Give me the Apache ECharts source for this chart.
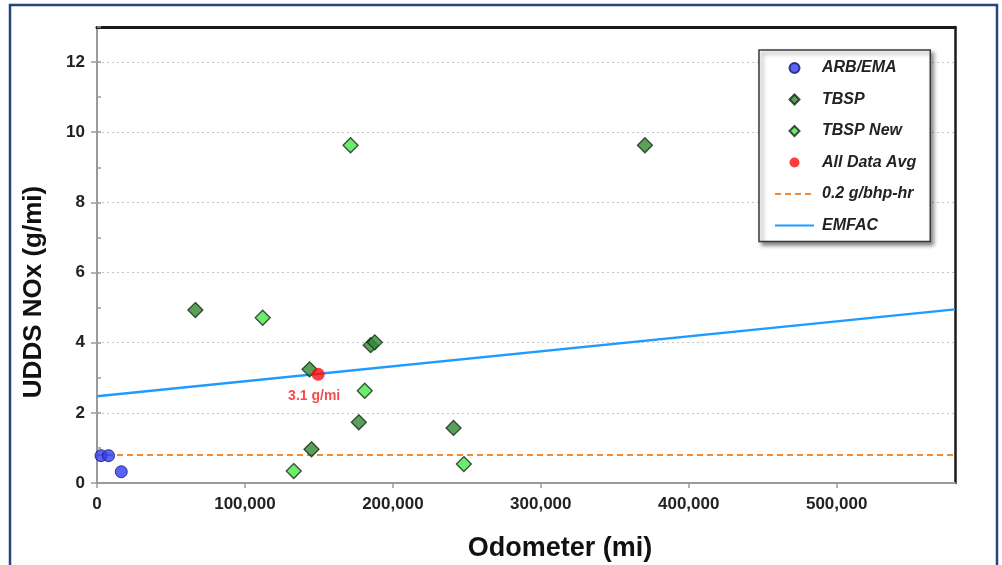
<!DOCTYPE html>
<html>
<head>
<meta charset="utf-8">
<style>
html,body{margin:0;padding:0;background:#fff;}
#chart{width:1002px;height:565px;}
</style>
<script src="https://cdn.jsdelivr.net/npm/echarts@6/dist/echarts.min.js"></script>
</head>
<body>
<div id="chart"></div>
<script>
// ---- data ----
var xTickValues = [0, 100000, 200000, 300000, 400000, 500000];
var yTickValues = [0, 2, 4, 6, 8, 10, 12];
var arbEma = [[2700, 0.78], [7800, 0.78], [16400, 0.32]];
var tbsp = [[66500, 4.93], [370400, 9.63], [143700, 3.24], [185000, 3.93], [187800, 4.01],
            [177000, 1.73], [145000, 0.96], [241000, 1.57]];
var tbspNew = [[171400, 9.63], [112000, 4.71], [181000, 2.63], [133000, 0.34], [248000, 0.54]];
var allDataAvg = [[149500, 3.1]];
var avgLabel = '3.1 g/mi';
var limitLine = [[0, 0.8], [580000, 0.8]];
var emfacLine = [[0, 2.47], [580000, 4.95]];
var xMax = 580000;
var yMax = 13;

var FONT = '"Liberation Sans", Arial, sans-serif';
var chart = echarts.init(document.getElementById('chart'), null, {renderer: 'canvas'});

function fmtNum(v) {
  return String(v).replace(/\B(?=(\d{3})+(?!\d))/g, ',');
}
// legend diamond icon: zero-length end segments widen the bounding box so the diamond keeps its shape
var diamondIcon = 'path://M0,5L0,5M39,5L39,5M14.5,5L19.5,0L24.5,5L19.5,10Z';

var option = {
  backgroundColor: '#ffffff',
  animation: false,
  grid: {left: 97, right: 47, top: 27, bottom: 82, containLabel: false, outerBoundsMode: 'none'},
  graphic: [
    {type: 'rect', z: 100, silent: true,
     shape: {x: 10, y: 5, width: 987, height: 620},
     style: {fill: 'none', stroke: '#24467a', lineWidth: 2.5}}
  ],
  xAxis: [
    {
      type: 'value', min: 0, max: xMax, interval: 100000,
      name: 'Odometer (mi)', nameLocation: 'middle', nameGap: 52,
      nameTextStyle: {fontFamily: FONT, fontWeight: 'bold', fontSize: 27, color: '#111', padding: [0, 0, 0, 68]},
      axisLine: {show: true, lineStyle: {color: '#9a9a9a', width: 2}},
      axisTick: {show: true, length: 5, customValues: xTickValues, lineStyle: {color: '#9a9a9a', width: 1.5}},
      axisLabel: {
        fontFamily: FONT, fontWeight: 'bold', fontSize: 17, color: '#222', margin: 13,
        formatter: function (v) { return xTickValues.indexOf(v) >= 0 ? fmtNum(v) : ''; }
      },
      splitLine: {show: false}
    },
    {
      type: 'value', position: 'top', min: 0, max: xMax,
      axisLine: {show: true, onZero: false, lineStyle: {color: '#1a1a1a', width: 3}},
      axisTick: {show: false}, axisLabel: {show: false}, splitLine: {show: false}
    }
  ],
  yAxis: [
    {
      type: 'value', min: 0, max: yMax, interval: 2,
      name: 'UDDS NOx (g/mi)', nameLocation: 'middle', nameGap: 50,
      nameTextStyle: {fontFamily: FONT, fontWeight: 'bold', fontSize: 26, color: '#111', padding: [0, 74, 0, 0]},
      axisLine: {show: true, lineStyle: {color: '#9a9a9a', width: 2}},
      axisTick: {show: true, length: 6, customValues: yTickValues, lineStyle: {color: '#9a9a9a', width: 1.5}},
      axisLabel: {
        fontFamily: FONT, fontWeight: 'bold', fontSize: 17, color: '#222', margin: 12,
        formatter: function (v) { return yTickValues.indexOf(v) >= 0 ? String(v) : ''; }
      },
      splitLine: {show: true, lineStyle: {color: '#c4c4c4', width: 1.2, type: [2, 3]}}
    },
    {
      type: 'value', position: 'right', min: 0, max: yMax,
      axisLine: {show: true, onZero: false, lineStyle: {color: '#1a1a1a', width: 2.5}},
      axisTick: {show: false}, axisLabel: {show: false}, splitLine: {show: false}
    },
    {
      type: 'value', position: 'left', min: 0, max: yMax, interval: 1,
      axisLine: {show: false},
      axisTick: {show: true, inside: true, length: 4, lineStyle: {color: '#9a9a9a', width: 1.5}},
      axisLabel: {show: false}, splitLine: {show: false}
    }
  ],
  legend: {
    orient: 'vertical', left: 759, top: 50,
    padding: [10, 14, 8, 15],
    itemWidth: 39, itemHeight: 10, itemGap: 15.5,
    backgroundColor: '#ffffff', borderColor: '#3a3a3a', borderWidth: 1.5,
    shadowColor: 'rgba(0,0,0,0.45)', shadowBlur: 4, shadowOffsetX: 3, shadowOffsetY: 3,
    textStyle: {fontFamily: FONT, fontWeight: 'bold', fontStyle: 'italic', fontSize: 16, color: '#222', padding: [0, 0, 0, 3]},
    data: [
      {name: 'ARB/EMA', icon: 'circle'},
      {name: 'TBSP', icon: diamondIcon},
      {name: 'TBSP New', icon: diamondIcon},
      {name: 'All Data Avg', icon: 'circle'},
      {name: '0.2 g/bhp-hr', itemStyle: {opacity: 0}},
      {name: 'EMFAC', itemStyle: {opacity: 0}}
    ]
  },
  series: [
    {
      name: '0.2 g/bhp-hr', type: 'line', data: limitLine, symbol: 'none', z: 2,
      lineStyle: {color: '#f08a36', width: 2, type: [6, 4]},
      itemStyle: {color: '#f08a36'}
    },
    {
      name: 'EMFAC', type: 'line', data: emfacLine, symbol: 'none', z: 2,
      lineStyle: {color: '#1f9bff', width: 2.5},
      itemStyle: {color: '#1f9bff'}
    },
    {
      name: 'ARB/EMA', type: 'scatter', data: arbEma, symbol: 'circle', symbolSize: 12, z: 4,
      itemStyle: {color: '#2f3cf5', borderColor: '#141466', borderWidth: 1}
    },
    {
      name: 'TBSP', type: 'scatter', data: tbsp, symbol: 'diamond', symbolSize: 15, z: 4,
      itemStyle: {color: '#2f8a32', borderColor: '#172417', borderWidth: 1.3}
    },
    {
      name: 'TBSP New', type: 'scatter', data: tbspNew, symbol: 'diamond', symbolSize: 15, z: 4,
      itemStyle: {color: '#46e846', borderColor: '#172417', borderWidth: 1.3}
    },
    {
      name: 'All Data Avg', type: 'scatter', data: allDataAvg, symbol: 'circle', symbolSize: 13, z: 5,
      itemStyle: {color: '#ff0a0a'},
      label: {
        show: true, position: 'bottom', distance: 8, offset: [-4, 0],
        formatter: function () { return avgLabel; },
        fontFamily: FONT, fontWeight: 'bold', fontSize: 14, color: '#f51e1e'
      }
    }
  ]
};
chart.setOption(option);
</script>
</body>
</html>
